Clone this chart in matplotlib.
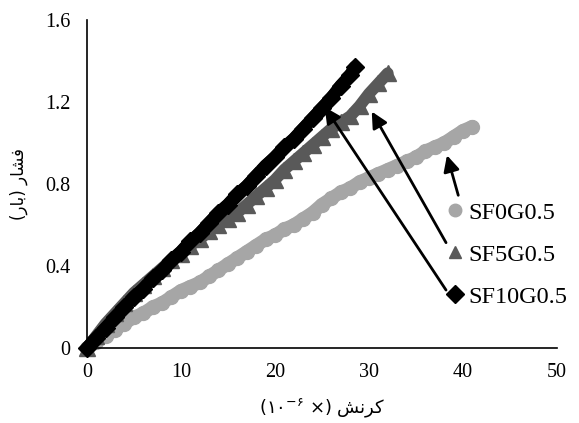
import matplotlib.pyplot as plt
from matplotlib.lines import Line2D

# strain (x 10^-6) and pressure (bar) for each mix
strain_sf0 = [0, 1, 2, 3, 4, 5, 6, 7, 8, 9, 10, 11, 12, 13, 14, 15, 16, 17, 18, 19, 20,
              21, 22, 23, 24, 25, 26, 27, 28, 29, 30, 31, 32, 33, 34, 35, 36, 37, 38, 39, 40, 41]
press_sf0 = [0, 0.03, 0.06, 0.09, 0.12, 0.15, 0.17, 0.2, 0.22, 0.25, 0.28, 0.3, 0.32, 0.35,
             0.38, 0.41, 0.44, 0.47, 0.5, 0.53, 0.55, 0.58, 0.6, 0.63, 0.66, 0.7, 0.73, 0.76,
             0.78, 0.81, 0.83, 0.85, 0.87, 0.89, 0.91, 0.93, 0.96, 0.98, 1.0, 1.03, 1.06, 1.08]

strain_sf5 = [0, 1, 2, 3, 4, 5, 6, 7, 8, 9, 10, 11, 12, 13, 14, 15, 16, 17, 18, 19, 20,
              21, 22, 23, 24, 25, 26, 27, 28, 29, 30, 31, 32]
press_sf5 = [0, 0.06, 0.12, 0.17, 0.22, 0.27, 0.31, 0.35, 0.39, 0.43, 0.46, 0.5, 0.53, 0.57,
             0.6, 0.63, 0.66, 0.7, 0.74, 0.78, 0.82, 0.87, 0.91, 0.95, 0.99, 1.03, 1.07, 1.1,
             1.13, 1.18, 1.24, 1.29, 1.34]

strain_sf10 = [0, 1, 2, 3, 4, 5, 6, 7, 8, 9, 10, 11, 12, 13, 14, 15, 16, 17, 18, 19, 20,
               21, 22, 23, 24, 25, 26, 27, 28, 28.5]
press_sf10 = [0, 0.05, 0.1, 0.15, 0.2, 0.25, 0.29, 0.34, 0.38, 0.43, 0.47, 0.52, 0.56, 0.61,
              0.66, 0.7, 0.75, 0.79, 0.84, 0.89, 0.93, 0.98, 1.02, 1.07, 1.12, 1.17, 1.22,
              1.28, 1.33, 1.37]

labels = ['SF0G0.5', 'SF5G0.5', 'SF10G0.5']
colours = ['#a6a6a6', '#595959', 'black']
markers = ['o', '^', 'D']

# arrow heads (on the curves) and tails (next to the legend)
arrow_heads = [(38.3, 0.94), (30.3, 1.153), (25.3, 1.175)]
arrow_tails = [(39.5, 0.745), (38.2, 0.514), (38.2, 0.283)]

plt.rcParams['font.family'] = 'Liberation Serif'
plt.rcParams['mathtext.fontset'] = 'dejavusans'

fig = plt.figure(figsize=(5.79, 4.23), dpi=100)
ax = fig.add_axes([0.150, 0.177, 0.812, 0.776])

series = [(strain_sf0, press_sf0), (strain_sf5, press_sf5), (strain_sf10, press_sf10)]
line_w = [9.5, 8.5, 9]
mark_s = [10, 11, 9]
for (xs, ys), c, m, lw, ms in zip(series, colours, markers, line_w, mark_s):
    ax.plot(xs, ys, color=c, lw=lw, marker=m, ms=ms, mec=c, mfc=c,
            solid_capstyle='round', clip_on=False)

for head, tail in zip(arrow_heads, arrow_tails):
    ax.annotate('', xy=head, xytext=tail,
                arrowprops=dict(arrowstyle='-|>', color='black', lw=2,
                                mutation_scale=24, shrinkA=0, shrinkB=0))

ax.set_xlim(0, 50)
ax.set_ylim(0, 1.6)
ax.set_xticks([0, 10, 20, 30, 40, 50])
ax.set_yticks([0, 0.4, 0.8, 1.2, 1.6])
ax.set_yticklabels(['0', '0.4', '0.8', '1.2', '1.6'])
ax.tick_params(length=0, labelsize=14.5)
ax.tick_params(axis='x', pad=11)
ax.tick_params(axis='y', pad=12)
for side in ['top', 'right']:
    ax.spines[side].set_visible(False)
for side in ['left', 'bottom']:
    ax.spines[side].set_linewidth(1.2)

# Persian labels written in presentation forms, visual order
ylab = '(\ufead\ufe8e\ufe91) \ufead\ufe8e\ufeb8\ufed3'
xlab = '(\u06f1\u06f0$^{-\u06f6}$ \u00d7) \ufeb6\ufee7\ufeae\ufb90'
ax.set_ylabel(ylab, family='DejaVu Sans', fontsize=12, labelpad=12)
ax.set_xlabel(xlab, family='DejaVu Sans', fontsize=13, labelpad=10)

handles = [Line2D([], [], ls='none', marker=m, color=c, ms=9) for m, c in zip(markers, colours)]
ax.legend(handles, labels, loc='upper left', bbox_to_anchor=(0.752, 0.552),
          bbox_transform=fig.transFigure, frameon=False, fontsize=17.5,
          handlelength=0.6, handletextpad=0.25, labelspacing=0.82, borderpad=0)

fig.savefig('out.png', dpi=100)
